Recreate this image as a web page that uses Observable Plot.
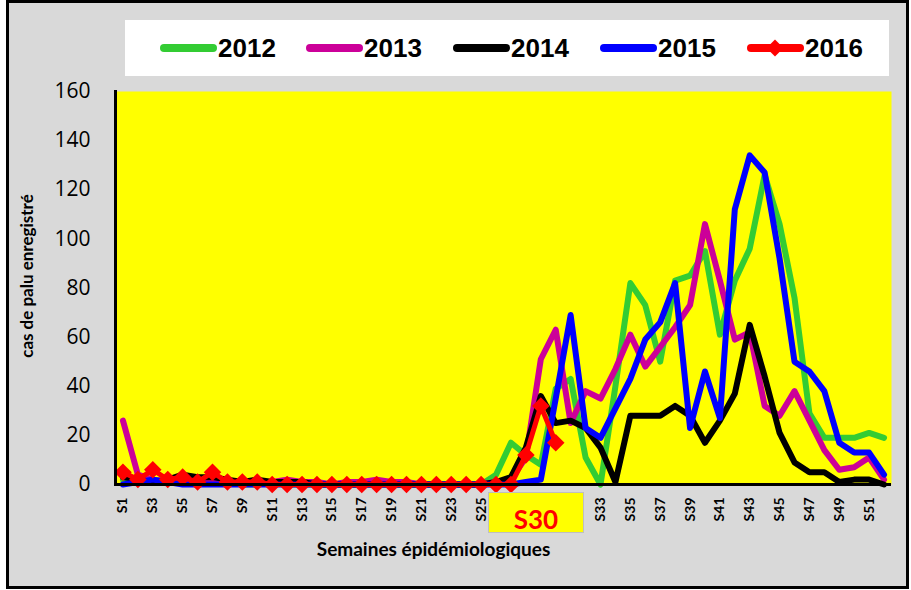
<!DOCTYPE html>
<html><head><meta charset="utf-8">
<script src="https://cdn.jsdelivr.net/npm/d3@7"></script>
<script src="https://cdn.jsdelivr.net/npm/@observablehq/plot@0.6"></script>
<style>
body{margin:0;background:#fff;}
#wrap{position:relative;width:911px;height:590px;overflow:hidden;}
#frame{position:absolute;left:6px;top:0;width:897px;height:583px;border:3px solid #000;background:#d9d9d9;}
#chart{position:absolute;left:0;top:0;}
#legend{position:absolute;left:125px;top:20px;width:764px;height:56px;background:#fff;}
.item{position:absolute;top:0;height:56px;display:flex;align-items:center;}
.item span{font-family:"Liberation Sans Narrow","Arial Narrow",sans-serif;font-weight:bold;font-size:26px;color:#000;margin-left:1px;}
#s30{position:absolute;left:488px;top:492px;width:94px;height:39px;background:#ffff00;border:1.5px solid #bfbfbf;
 font-family:Lato,sans-serif;font-weight:bold;font-size:26px;color:#ff0000;text-align:center;line-height:52px;}
</style></head><body>
<div id="wrap"><div id="frame"></div><div id="chart"></div><div id="legend"></div><div id="s30">S30</div></div>
<script>
const weeks = d3.range(1, 53).map(i => "S" + i);
const years = ["2012", "2013", "2014", "2015", "2016"];
const colors = ["#33cc33", "#cc0099", "#000000", "#0000ff", "#ff0000"];
const yTicks = [0, 20, 40, 60, 80, 100, 120, 140, 160];
const xTickLabels = ["S1","S3","S5","S7","S9","S11","S13","S15","S17","S19","S21","S23","S25","S33","S35","S37","S39","S41","S43","S45","S47","S49","S51"];
const yTitle = "cas de palu enregistré";
const xTitle = "Semaines épidémiologiques";
const calloutLabel = "S30";

const cases2012 = [2,1,2,1,1,1,1,1,0,0, 1,0,0,0,0,0,0,1,0,0, 0,0,0,0,0, 4,17,12,8,39, 43,11,0,40,82, 73,50,83,85,95, 61,83,96,126,106, 76,29,19,19,19, 21,19];
const cases2013 = [26,4,2,1,1,1,1,1,0,1, 1,2,1,1,0,1,1,2,1,1, 0,0,0,0,0, 1,2,11,51,63, 25,38,35,47,61, 48,56,64,73,106, 83,59,62,32,28, 38,26,14,6,7, 11,2];
const cases2014 = [3,2,1,2,4,3,3,2,1,2, 1,1,1,0,0,0,0,0,0,0, 0,0,0,0,0, 1,3,15,36,25, 26,23,15,1,28, 28,28,32,28,17, 26,37,65,44,21, 9,5,5,1,2, 2,0];
const cases2015 = [0,1,2,1,0,0,0,0,0,0, 0,0,0,0,0,0,0,0,0,0, 0,0,0,0,0, 0,0,1,2,35, 69,23,19,31,43, 59,66,82,23,46, 27,112,134,127,92, 50,46,38,17,13, 13,4];
const cases2016 = [5,2,6,2,3,1,5,1,1,1, 0,0,0,0,0,0,0,0,0,0, 0,0,0,0,0, 0,0,12,32,17];

const series = [cases2012, cases2013, cases2014, cases2015, cases2016];
const data = [];
years.forEach((yr, i) => series[i].forEach((v, j) => data.push({year: yr, week: weeks[j], value: v})));
const past = data.filter(d => d.year !== "2016");
const current = data.filter(d => d.year === "2016");

const plot = Plot.plot({
  width: 911, height: 590,
  marginLeft: 115, marginRight: 20, marginTop: 91, marginBottom: 106,
  style: {background: "transparent", fontFamily: "Lato, sans-serif", color: "#000"},
  x: {type: "point", domain: weeks, padding: 0.5},
  y: {domain: [0, 160]},
  color: {domain: years, range: colors},
  marks: [
    Plot.frame({fill: "#ffff00", stroke: null}),
    Plot.axisY({ticks: yTicks, tickSize: 0, tickPadding: 25, fontSize: 21, fontFamily: "'Open Sans', sans-serif", fontWeight: 400, label: null}),
    Plot.axisX({ticks: xTickLabels, tickSize: 0, tickRotate: -90, tickPadding: 13, fontSize: 14, fontWeight: "bold", label: null}),
    Plot.text([yTitle], {frameAnchor: "left", textAnchor: "middle", lineAnchor: "middle", dx: -88, dy: -12, rotate: -90, fontSize: 17, fontWeight: "bold"}),
    Plot.text([xTitle], {frameAnchor: "bottom", textAnchor: "middle", dx: -70, dy: 71, fontSize: 19, fontWeight: "bold"}),
    Plot.line(past, {x: "week", y: "value", z: "year", stroke: "year", strokeWidth: 6, strokeLinejoin: "round", strokeLinecap: "round"}),
    Plot.line(current, {x: "week", y: "value", stroke: "year", strokeWidth: 5, strokeLinejoin: "round"}),
    Plot.dot(current, {x: "week", y: "value", fill: "year", symbol: "square", rotate: 45, r: 7, stroke: null}),
    Plot.frame({anchor: "left", stroke: "#000", strokeWidth: 3}),
    Plot.ruleY([0], {stroke: "#000", strokeWidth: 3})
  ]
});
document.getElementById("chart").appendChild(plot);

const legendStarts = [35, 181, 328, 475, 622];
const legend = document.getElementById("legend");
years.forEach((yr, i) => {
  const it = document.createElement("div");
  it.className = "item";
  it.style.left = legendStarts[i] + "px";
  const diamond = yr === "2016" ? `<rect x="22" y="4" width="12" height="12" fill="${colors[i]}" transform="rotate(45 28 10)"/>` : "";
  it.innerHTML = `<svg width="57" height="20"><line x1="4" y1="10" x2="53" y2="10" stroke="${colors[i]}" stroke-width="8" stroke-linecap="round"/>${diamond}</svg><span>${yr}</span>`;
  legend.appendChild(it);
});
document.getElementById("s30").textContent = calloutLabel;
</script>
</body></html>
